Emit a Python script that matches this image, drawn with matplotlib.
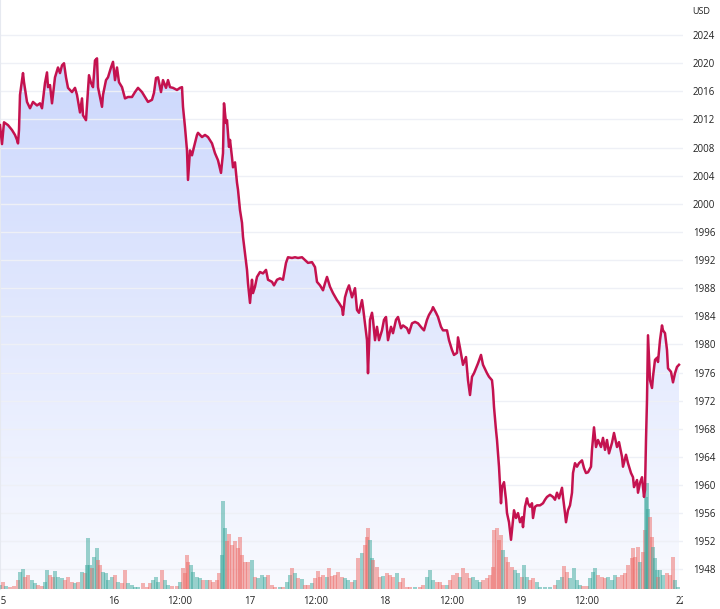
import numpy as np
import matplotlib
matplotlib.use("Agg")
import matplotlib.pyplot as plt
from matplotlib.transforms import Bbox, TransformedBbox

# bar index (position along the compressed time axis) and price in USD
bar = [0, 2, 4, 8, 12, 15, 17, 18, 19, 20, 23, 24, 27, 30, 33, 37, 40, 42, 45, 47,
       48, 50, 52, 55, 58, 60, 62, 64, 66, 68, 72, 75, 77, 80, 82, 83, 86, 87, 89, 91,
       93, 95, 97, 98, 100, 102, 103, 106, 108, 111, 113, 115, 117, 119, 122, 125, 128, 132, 135, 138,
       142, 145, 148, 152, 154, 156, 158, 161, 163, 166, 168, 170, 173, 177, 180, 182, 183, 185, 187, 188,
       190, 192, 194, 197, 198, 202, 205, 208, 212, 215, 218, 221, 223, 224, 226, 227, 229, 230, 232, 233,
       235, 237, 238, 240, 242, 243, 245, 247, 248, 250, 252, 253, 255, 257, 260, 263, 266, 268, 272, 274,
       277, 280, 283, 286, 288, 292, 295, 298, 302, 305, 308, 312, 315, 317, 320, 323, 325, 327, 330, 333,
       337, 339, 342, 343, 345, 347, 349, 352, 355, 357, 359, 362, 363, 365, 367, 368, 370, 372, 373, 375,
       377, 379, 382, 384, 386, 388, 391, 393, 396, 398, 401, 403, 407, 409, 412, 415, 418, 422, 424, 427,
       429, 432, 433, 436, 438, 441, 443, 447, 449, 452, 454, 457, 458, 460, 463, 466, 468, 470, 472, 474,
       476, 478, 481, 483, 487, 489, 492, 493, 494, 496, 497, 499, 501, 502, 504, 506, 507, 509, 511, 513,
       514, 516, 518, 520, 522, 523, 525, 527, 528, 530, 532, 533, 535, 537, 540, 543, 545, 547, 550, 553,
       555, 557, 559, 562, 563, 565, 566, 568, 570, 572, 573, 575, 577, 579, 582, 584, 586, 588, 591, 592,
       594, 596, 598, 601, 603, 605, 607, 609, 612, 614, 617, 619, 622, 623, 626, 628, 631, 633, 634, 637,
       638, 640, 642, 644, 645, 646, 647, 648, 650, 652, 653, 655, 657, 658, 660, 662, 663, 665, 667, 668,
       671, 673, 675, 677, 679]
price = [2011.2, 2008.5, 2011.6, 2011.2, 2010.5, 2009.8, 2009.1, 2008.6, 2010.5, 2015.5,
         2018.6, 2017.3, 2014.5, 2013.6, 2014.5, 2014.0, 2014.3, 2013.6, 2017.2, 2018.7,
         2016.6, 2016.9, 2014.3, 2018.0, 2019.4, 2018.6, 2019.7, 2020.0, 2018.0, 2016.5,
         2015.9, 2016.5, 2015.5, 2013.0, 2015.0, 2012.6, 2011.9, 2014.0, 2018.3, 2017.2,
         2016.6, 2020.4, 2020.7, 2016.6, 2015.2, 2013.8, 2015.5, 2017.6, 2018.0, 2019.4,
         2020.2, 2017.6, 2019.4, 2017.3, 2016.6, 2015.0, 2015.2, 2015.2, 2015.9, 2016.5,
         2015.9, 2015.2, 2014.5, 2014.8, 2015.8, 2017.9, 2018.0, 2015.9, 2017.6, 2016.5,
         2017.6, 2016.6, 2016.5, 2016.2, 2016.5, 2016.6, 2013.8, 2010.9, 2007.6, 2003.4,
         2007.6, 2006.9, 2008.1, 2009.8, 2010.1, 2009.5, 2009.8, 2009.5, 2008.6, 2007.2,
         2006.2, 2004.4, 2007.2, 2014.3, 2011.5, 2011.9, 2008.1, 2009.1, 2006.6, 2005.2,
         2005.9, 2003.0, 2002.0, 1999.1, 1997.3, 1995.3, 1993.0, 1990.6, 1988.7, 1985.9,
         1989.2, 1987.3, 1988.2, 1989.6, 1990.3, 1990.1, 1990.6, 1989.2, 1988.9, 1988.4,
         1989.2, 1989.4, 1989.2, 1991.6, 1992.4, 1992.3, 1992.4, 1992.3, 1992.4, 1992.0,
         1991.6, 1991.7, 1991.0, 1988.9, 1988.4, 1987.7, 1988.7, 1989.6, 1988.2, 1987.3,
         1986.3, 1985.9, 1985.2, 1984.2, 1986.7, 1987.7, 1988.4, 1986.7, 1988.0, 1984.9,
         1984.5, 1986.3, 1985.3, 1983.0, 1980.6, 1975.9, 1983.5, 1984.5, 1983.5, 1980.6,
         1982.5, 1980.6, 1982.0, 1983.5, 1983.9, 1980.6, 1982.5, 1981.6, 1983.5, 1983.9,
         1982.3, 1982.7, 1982.3, 1981.6, 1983.0, 1983.2, 1983.0, 1982.3, 1982.0, 1983.5,
         1984.2, 1984.9, 1985.3, 1984.5, 1983.9, 1982.5, 1982.0, 1982.0, 1980.6, 1979.2,
         1978.5, 1978.8, 1981.0, 1979.5, 1977.1, 1978.2, 1974.9, 1972.8, 1975.4, 1975.9,
         1976.6, 1977.3, 1978.5, 1977.1, 1975.9, 1975.4, 1974.9, 1973.5, 1971.1, 1967.8,
         1966.4, 1962.6, 1957.4, 1959.7, 1960.4, 1957.9, 1956.0, 1954.7, 1952.2, 1955.0,
         1956.4, 1955.3, 1956.0, 1954.7, 1955.4, 1954.0, 1956.9, 1958.1, 1957.4, 1956.9,
         1957.4, 1955.3, 1956.9, 1957.1, 1957.1, 1957.4, 1957.9, 1958.3, 1958.6, 1958.3,
         1957.9, 1958.9, 1958.1, 1959.6, 1958.3, 1956.0, 1954.7, 1956.4, 1957.1, 1958.9,
         1961.7, 1963.1, 1962.6, 1963.1, 1963.5, 1962.4, 1961.7, 1961.8, 1962.6, 1965.0,
         1968.2, 1965.4, 1966.4, 1965.4, 1966.7, 1965.0, 1966.4, 1964.5, 1966.0, 1967.4,
         1965.4, 1966.1, 1964.0, 1962.6, 1964.3, 1963.1, 1961.7, 1961.1, 1959.7, 1960.7,
         1958.9, 1960.3, 1961.1, 1958.3, 1959.3, 1966.4, 1972.1, 1981.3, 1974.9, 1973.8,
         1975.4, 1977.8, 1978.1, 1977.5, 1980.6, 1982.7, 1982.0, 1981.6, 1979.2, 1976.6,
         1976.1, 1974.6, 1975.9, 1976.8, 1977.1]

# traded volume (arbitrary units) per sampled bar
vol_bar = [0, 3, 6, 10, 14, 18, 20, 23, 25, 28, 32, 35, 38, 42, 45, 47, 50, 53, 55, 58,
           62, 65, 68, 72, 75, 78, 82, 85, 87, 88, 90, 92, 94, 97, 98, 100, 103, 106, 108, 112,
           115, 118, 122, 125, 128, 132, 135, 138, 143, 147, 150, 153, 156, 158, 162, 165, 168, 172, 177, 180,
           183, 185, 187, 188, 191, 193, 197, 200, 203, 207, 210, 213, 217, 219, 222, 223, 225, 227, 229, 232,
           235, 238, 240, 242, 245, 248, 252, 255, 258, 262, 265, 268, 272, 275, 280, 283, 287, 290, 292, 295,
           298, 302, 305, 308, 312, 315, 318, 320, 323, 327, 329, 332, 335, 338, 342, 345, 348, 352, 355, 358,
           362, 365, 367, 368, 370, 372, 373, 377, 380, 383, 387, 390, 393, 397, 400, 403, 407, 410, 415, 420,
           423, 427, 430, 433, 437, 440, 443, 447, 450, 453, 457, 460, 463, 467, 470, 473, 477, 480, 483, 487,
           490, 493, 494, 497, 499, 501, 503, 506, 508, 512, 515, 518, 522, 524, 527, 530, 533, 537, 540, 545,
           550, 555, 558, 562, 564, 567, 570, 574, 577, 580, 583, 587, 590, 593, 595, 598, 602, 605, 608, 612,
           615, 618, 622, 625, 628, 632, 633, 635, 638, 640, 643, 645, 646, 647, 648, 650, 652, 653, 655, 657,
           658, 660, 663, 667, 670, 673, 675, 678]
vol = [4, 7, 3, 2, 3, 9, 17, 20, 12, 14, 9, 6, 4, 3, 7, 19, 14, 12, 18, 12,
       11, 9, 12, 7, 6, 7, 17, 16, 24, 51, 24, 21, 32, 41, 29, 24, 17, 16, 9, 12,
       14, 7, 6, 19, 6, 4, 2, 2, 6, 2, 6, 9, 12, 7, 19, 9, 4, 3, 3, 7,
       21, 16, 34, 27, 24, 17, 12, 11, 9, 9, 9, 7, 9, 16, 34, 88, 61, 48, 55, 44,
       48, 41, 52, 34, 27, 27, 29, 12, 11, 14, 12, 14, 4, 2, 2, 2, 7, 14, 21, 16,
       11, 10, 4, 4, 6, 11, 18, 12, 14, 12, 21, 13, 14, 17, 12, 11, 9, 7, 9, 31,
       36, 44, 52, 61, 49, 31, 29, 22, 12, 13, 16, 14, 12, 16, 7, 11, 2, 2, 2, 2,
       4, 12, 19, 9, 7, 7, 4, 4, 9, 14, 16, 12, 21, 16, 11, 12, 9, 7, 9, 11,
       14, 22, 59, 61, 49, 54, 39, 32, 27, 22, 19, 16, 12, 24, 12, 9, 11, 7, 2, 2,
       2, 4, 9, 12, 23, 17, 11, 21, 9, 4, 3, 3, 11, 17, 21, 14, 12, 11, 12, 9,
       14, 12, 14, 16, 24, 31, 41, 32, 42, 27, 37, 59, 92, 106, 80, 72, 52, 42, 31, 19,
       12, 19, 14, 16, 14, 32, 9, 2]

y_ticks = [1948, 1952, 1956, 1960, 1964, 1968, 1972, 1976, 1980, 1984, 1988, 1992,
           1996, 2000, 2004, 2008, 2012, 2016, 2020, 2024]
x_tick_pos = [0.5, 114, 180, 250, 316, 385, 452, 521, 587, 681]
x_tick_labels = ["15", "16", "12:00", "17", "12:00", "18", "12:00", "19", "12:00", "22"]

LINE = "#c4124f"
UP = "#3aa89c"
DOWN = "#ee6a66"
TXT = "#222222"

plt.rcParams["font.family"] = ["Open Sans", "DejaVu Sans"]

fig = plt.figure(figsize=(7.2, 6.09), dpi=100)
ax = fig.add_axes([0, 20 / 609, 683 / 720, 589 / 609])
ymin, ymax = 1945.2, 2029.0
ax.set_xlim(0, 683)
ax.set_ylim(ymin, ymax)

# gradient area under the price line
grad = np.linspace(0, 1, 256).reshape(-1, 1)
top = np.array([0.78, 0.83, 0.99])
bot = np.array([0.975, 0.98, 1.0])
img = top + (bot - top) * grad[:, :, None] * np.ones((1, 1, 3))
im = ax.imshow(img, extent=[0, 683, ymin, ymax], aspect="auto", origin="upper", zorder=1)
poly = ax.fill_between(bar, price, ymin, facecolor="none", edgecolor="none")
im.set_clip_path(poly.get_paths()[0], transform=ax.transData)

# volume on its own hidden scale, above the gradient
vax = ax.twinx()
vax.set_ylim(0, 589)
vp = np.interp(vol_bar, bar, price)
up = np.r_[True, np.diff(vp) >= 0]
cols = [UP if u else DOWN for u in up]
vax.bar(vol_bar, vol, width=3.3, color=cols, alpha=0.5, linewidth=0, zorder=2)
vax.set_yticks([])
vax.patch.set_visible(False)
for s in vax.spines.values():
    s.set_visible(False)

# price line on top of the bars, in price coordinates
vax.plot(bar, price, color=LINE, lw=1.8, zorder=4, solid_joinstyle="round",
         transform=ax.transData)
vax.set_ylim(0, 589)
vax.set_xlim(0, 683)

# axis styling (after twinx, which resets the tick side)
ax.set_yticks(y_ticks)
ax.yaxis.tick_right()
ax.grid(axis="y", color="#eef0f6", lw=1, zorder=0)
ax.tick_params(axis="y", which="both", left=False, right=False, labelleft=False,
               labelright=True, length=0, pad=7, labelsize=7, labelcolor=TXT)
ax.tick_params(axis="x", length=0, pad=5, labelsize=7, labelcolor=TXT)
ax.set_xticks(x_tick_pos, x_tick_labels)
clip = TransformedBbox(Bbox([[0, -1], [1, 1]]), ax.transAxes)
for t in ax.get_xticklabels():
    t.set_clip_on(True)
    t.set_clip_box(clip)
for k, s in ax.spines.items():
    s.set_visible(k == "left")
ax.spines["left"].set_color("#e6e9f0")

fig.text(692 / 720, 1 - 11 / 609, "USD", fontsize=6.5, color=TXT, va="center")

fig.savefig("out.png", dpi=100, facecolor="white")
